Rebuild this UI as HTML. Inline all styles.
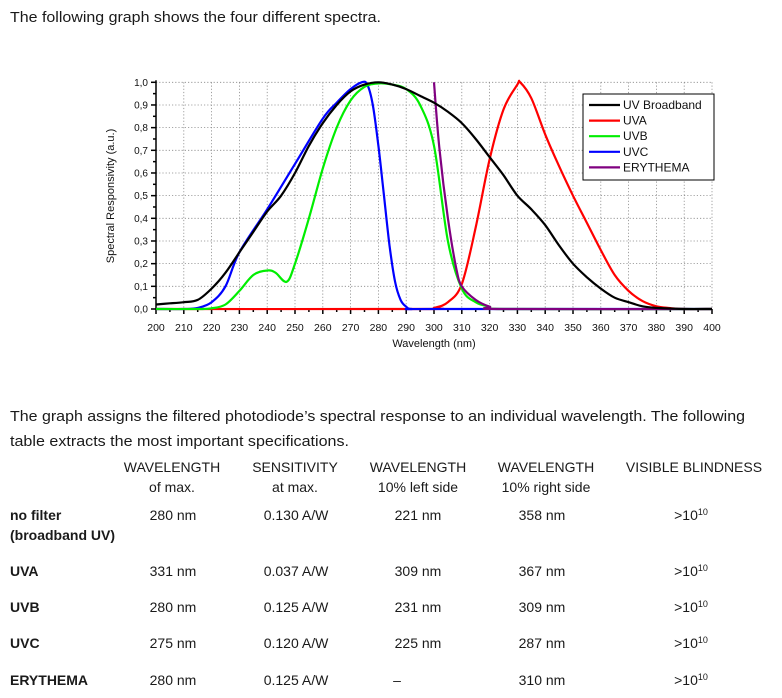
<!DOCTYPE html>
<html><head><meta charset="utf-8"><style>
body{margin:0;background:#fff;}
svg{display:block;font-family:"Liberation Sans",sans-serif;}
.t{font-size:15px;fill:#1a1a1a;}
.b{font-weight:bold;}
</style></head><body>
<svg id="page" width="782" height="698" viewBox="0 0 782 698">
<text class="t" x="10" y="22" textLength="371" lengthAdjust="spacingAndGlyphs">The following graph shows the four different spectra.</text>
<g id="chart"></g>
<text class="t" x="10" y="421" textLength="735" lengthAdjust="spacingAndGlyphs">The graph assigns the filtered photodiode’s spectral response to an individual wavelength. The following</text>
<text class="t" x="10" y="446" textLength="339" lengthAdjust="spacingAndGlyphs">table extracts the most important specifications.</text>
<g text-anchor="middle" style="font-size:14px" fill="#1a1a1a">
<g>
<text x="172" y="472">WAVELENGTH</text><text x="172" y="492">of max.</text>
<text x="295" y="472">SENSITIVITY</text><text x="295" y="492">at max.</text>
<text x="418" y="472">WAVELENGTH</text><text x="418" y="492">10% left side</text>
<text x="546" y="472">WAVELENGTH</text><text x="546" y="492">10% right side</text>
<text x="694" y="472">VISIBLE BLINDNESS</text>
</g>
<g>
<text class="b" x="10" y="520" text-anchor="start">no filter</text><text class="b" x="10" y="540" text-anchor="start">(broadband UV)</text>
<text x="173" y="520">280 nm</text><text x="296" y="520">0.130 A/W</text><text x="418" y="520">221 nm</text><text x="542" y="520">358 nm</text><text x="691" y="520">&gt;10<tspan dy="-5" font-size="9">10</tspan></text>
</g>
<g>
<text class="b" x="10" y="576" text-anchor="start">UVA</text>
<text x="173" y="576">331 nm</text><text x="296" y="576">0.037 A/W</text><text x="418" y="576">309 nm</text><text x="542" y="576">367 nm</text><text x="691" y="576">&gt;10<tspan dy="-5" font-size="9">10</tspan></text>
</g>
<g>
<text class="b" x="10" y="612" text-anchor="start">UVB</text>
<text x="173" y="612">280 nm</text><text x="296" y="612">0.125 A/W</text><text x="418" y="612">231 nm</text><text x="542" y="612">309 nm</text><text x="691" y="612">&gt;10<tspan dy="-5" font-size="9">10</tspan></text>
</g>
<g>
<text class="b" x="10" y="648" text-anchor="start">UVC</text>
<text x="173" y="648">275 nm</text><text x="296" y="648">0.120 A/W</text><text x="418" y="648">225 nm</text><text x="542" y="648">287 nm</text><text x="691" y="648">&gt;10<tspan dy="-5" font-size="9">10</tspan></text>
</g>
<g>
<text class="b" x="10" y="685" text-anchor="start">ERYTHEMA</text>
<text x="173" y="685">280 nm</text><text x="296" y="685">0.125 A/W</text><text x="397" y="685">–</text><text x="542" y="685">310 nm</text><text x="691" y="685">&gt;10<tspan dy="-5" font-size="9">10</tspan></text>
</g>
</g>
</svg>
<script>
const xTicks=[200,210,220,230,240,250,260,270,280,290,300,310,320,330,340,350,360,370,380,390,400];
const yTicks=[0,0.1,0.2,0.3,0.4,0.5,0.6,0.7,0.8,0.9,1.0];
const yTickLabels=["0,0","0,1","0,2","0,3","0,4","0,5","0,6","0,7","0,8","0,9","1,0"];
const seriesNames=["UV Broadband","UVA","UVB","UVC","ERYTHEMA"];
const bbX=[200,205,210,215,220,225,230,235,240,245,250,255,260,265,270,275,280,285,290,295,300,305,310,315,320,325,330,335,340,345,350,355,360,365,370,375,380,385,390,400];
const bbY=[0.02,0.025,0.03,0.04,0.09,0.16,0.25,0.34,0.43,0.5,0.6,0.72,0.82,0.9,0.96,0.99,1.0,0.99,0.97,0.94,0.91,0.87,0.82,0.75,0.67,0.59,0.5,0.44,0.37,0.28,0.2,0.14,0.09,0.05,0.03,0.012,0.005,0.002,0,0];
const uvaX=[200,295,300,305,310,315,320,325,330,331,335,340,345,350,355,360,365,370,375,380,385,390,400];
const uvaY=[0,0,0.005,0.03,0.11,0.36,0.66,0.88,0.99,1.0,0.93,0.77,0.63,0.5,0.38,0.26,0.15,0.08,0.035,0.012,0.004,0,0];
const uvbX=[200,215,220,225,230,235,240,243,247,250,255,260,265,270,275,280,285,290,295,300,305,310,315,320,325,400];
const uvbY=[0,0,0.003,0.02,0.08,0.15,0.17,0.16,0.12,0.2,0.4,0.62,0.8,0.92,0.98,0.995,0.99,0.97,0.9,0.72,0.3,0.09,0.03,0.01,0,0];
const uvcX=[200,210,215,220,225,230,240,250,260,265,270,274,276,278,280,282,284,286,288,290,292,300,400];
const uvcY=[0,0,0.005,0.03,0.1,0.25,0.44,0.64,0.84,0.91,0.97,1.0,0.99,0.9,0.72,0.5,0.28,0.12,0.04,0.01,0,0,0];
const eryX=[300,302,305,308,310,315,320,325,400];
const eryY=[1.0,0.7,0.4,0.18,0.1,0.04,0.01,0,0];
const NS="http://www.w3.org/2000/svg";
const X0=156,X1=712,Y0=309,Y1=82.3;
const sx=v=>X0+(v-200)/(400-200)*(X1-X0);
const sy=v=>Y0-(v-0)/(1-0)*(Y0-Y1);
const chart=document.getElementById('chart');
function mk(tag,attrs,parent){const e=document.createElementNS(NS,tag);for(const k in attrs)e.setAttribute(k,attrs[k]);(parent||chart).appendChild(e);return e;}
const grid=mk('g',{stroke:'#888','stroke-width':'0.8','stroke-dasharray':'1.2,2'});


xTicks.slice(1).forEach(v=>mk('line',{x1:sx(v),x2:sx(v),y1:Y1,y2:Y0},grid));
yTicks.slice(1).forEach(v=>mk('line',{x1:X0,x2:X1,y1:sy(v),y2:sy(v)},grid));
const ax=mk('g',{stroke:'#000','stroke-width':'1.5'});


mk('line',{x1:X0,x2:X0,y1:Y1-2,y2:Y0},ax);
mk('line',{x1:X0,x2:X1,y1:Y0,y2:Y0},ax);
xTicks.forEach((v,i)=>{mk('line',{x1:sx(v),x2:sx(v),y1:Y0,y2:Y0+5},ax);if(i<xTicks.length-1)mk('line',{x1:sx(v+5),x2:sx(v+5),y1:Y0,y2:Y0+3},ax);});
yTicks.forEach((v,i)=>{mk('line',{x1:X0-5,x2:X0,y1:sy(v),y2:sy(v)},ax);if(i<yTicks.length-1)mk('line',{x1:X0-3,x2:X0,y1:sy(v+0.05),y2:sy(v+0.05)},ax);});
const xl=mk('g',{'font-size':'10.5','text-anchor':'middle',fill:'#111'});


xTicks.forEach(v=>{const t=mk('text',{x:sx(v),y:331},xl);t.textContent=v;});
const yl=mk('g',{'font-size':'10','text-anchor':'end',fill:'#111'});


yTicks.forEach((v,i)=>{const t=mk('text',{x:X0-8,y:sy(v)+3.5},yl);t.textContent=yTickLabels[i];});
const xt=mk('text',{x:434,y:347,'font-size':'11','text-anchor':'middle',fill:'#111'});


xt.textContent='Wavelength (nm)';
const yt=mk('text',{x:0,y:0,'font-size':'11','text-anchor':'middle',fill:'#111',transform:'translate(114,196) rotate(-90)'});


yt.textContent='Spectral Responsivity (a.u.)';
const colors=['#000','#f00','#0e0','#00f','#800080'];
const data=[[bbX,bbY],[uvaX,uvaY],[uvbX,uvbY],[uvcX,uvcY],[eryX,eryY]];
const drawOrder=[1,3,2,4,0];
function smooth(pts){let d='M'+pts[0][0].toFixed(1)+','+pts[0][1].toFixed(1);
for(let i=0;i<pts.length-1;i++){const p0=pts[Math.max(0,i-1)],p1=pts[i],p2=pts[i+1],p3=pts[Math.min(pts.length-1,i+2)];
const c1=[p1[0]+(p2[0]-p0[0])/6,p1[1]+(p2[1]-p0[1])/6],c2=[p2[0]-(p3[0]-p1[0])/6,p2[1]-(p3[1]-p1[1])/6];
d+='C'+c1[0].toFixed(1)+','+c1[1].toFixed(1)+' '+c2[0].toFixed(1)+','+c2[1].toFixed(1)+' '+p2[0].toFixed(1)+','+p2[1].toFixed(1);}
return d;}
drawOrder.forEach(i=>{const [xs,ys]=data[i];const pts=xs.map((x,j)=>[sx(x),sy(ys[j])]);
const p=mk('path',{d:smooth(pts),fill:'none',stroke:colors[i],'stroke-width':'2.2','stroke-linejoin':'round'});

});
const lg=mk('g',{});


mk('rect',{x:583,y:94,width:131,height:86,fill:'#fff',stroke:'#000','stroke-width':'1'},lg);
seriesNames.forEach((n,i)=>{const y=105+i*15.6;
const e=mk('g',{},lg);


mk('line',{x1:589,x2:620,y1:y,y2:y,stroke:colors[i],'stroke-width':'2.2'},e);
const t=mk('text',{x:623,y:y+4,'font-size':'12',fill:'#111'},e);t.textContent=n;});
</script>
</body></html>
